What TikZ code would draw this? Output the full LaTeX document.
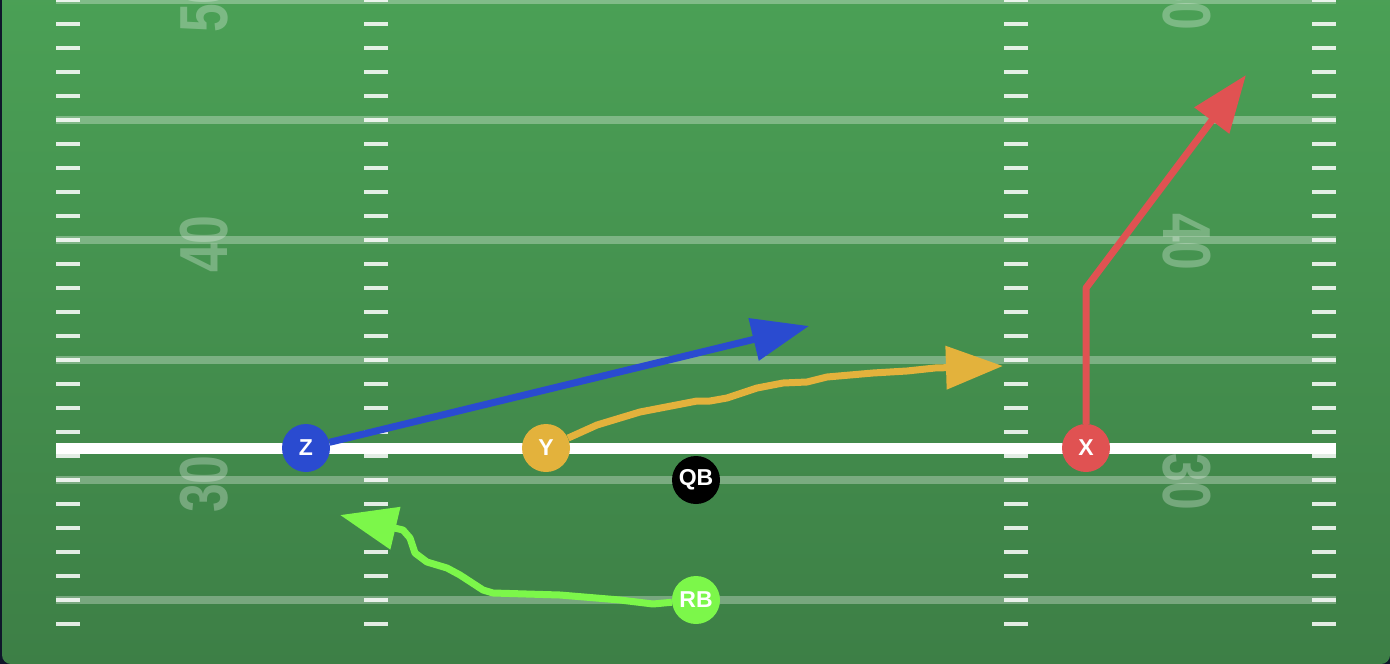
\documentclass[tikz,border=0pt]{standalone}
\usepackage{fontspec}
\usepackage{graphicx}
\setmainfont{Liberation Sans}
\usetikzlibrary{arrows.meta}
\definecolor{bgdark}{HTML}{0F172A}
\definecolor{fieldtop}{RGB}{75,161,86}
\definecolor{fieldbot}{RGB}{61,127,70}
\definecolor{zblue}{HTML}{2A4BD0}
\definecolor{ygold}{HTML}{E3B23C}
\definecolor{xred}{HTML}{E05252}
\definecolor{rbgreen}{HTML}{7CF74A}
\begin{document}
\begin{tikzpicture}[x=1pt,y=-1pt,
 player/.style={circle, minimum size=48pt, inner sep=0pt, text=white, font=\bfseries\fontsize{23}{23}\selectfont},
 route/.style={line width=7pt, line join=round, -{Triangle[length=57pt,width=42pt]}},
 yardline/.style={white, opacity=0.3, line width=8pt},
 hashmark/.style={white, opacity=0.85, line width=4pt},
 yardnum/.style={white, text opacity=0.28, font=\bfseries\fontsize{68}{68}\selectfont, inner sep=0pt}
]
\useasboundingbox (0,0) rectangle (1390,664);
\fill[bgdark] (0,0) rectangle (1390,664);
\shade[top color=fieldtop, bottom color=fieldbot, rounded corners=9pt] (2,-20) rectangle (1390,664);

% yard lines
\foreach \yy in {0,120,...,600} \draw[yardline] (56,\yy) -- (1336,\yy);
% hash marks
\foreach \yy in {0,24,...,624} {
  \foreach \xx in {56,364,1004,1312} \draw[hashmark] (\xx,\yy) -- ++(24,0);
}
% yard numbers
\node[yardnum, rotate=90] (n50l) at (204,4) {\scalebox{0.76}[1]{50}};
\node[yardnum, rotate=90] (n40l) at (204,244) {\scalebox{0.76}[1]{40}};
\node[yardnum, rotate=90] (n30l) at (204,484) {\scalebox{0.76}[1]{30}};
\node[yardnum, rotate=-90] (n50r) at (1187,2) {\scalebox{0.76}[1]{50}};
\node[yardnum, rotate=-90] (n40r) at (1187,242) {\scalebox{0.76}[1]{40}};
\node[yardnum, rotate=-90] (n30r) at (1187,482) {\scalebox{0.76}[1]{30}};

% line of scrimmage
\draw[white, line width=11pt] (56,448) -- (1336,448);

% players
\node[player, fill=zblue] (Z) at (306,448) {Z};
\node[player, fill=ygold] (Y) at (546,448) {Y};
\node[player, fill=black] (QB) at (696,480) {QB};
\node[player, fill=xred] (X) at (1086,448) {X};
\node[player, fill=rbgreen] (RB) at (696,600) {RB};

% route ends
\coordinate (zt) at (809,326);
\coordinate (yt) at (1003,366);
\coordinate (xb) at (1086,288);
\coordinate (xt) at (1246,75);
\coordinate (rt) at (340,515);

% routes
\draw[route, zblue] (Z) -- (zt);
\draw[route, ygold] (Y) -- (597,425) -- (640,412) -- (697,401) -- (710,401) -- (727,398)
  -- (757,388) -- (783,383) -- (807,382) -- (827,377) -- (873,373) -- (907,371) -- (935,368) -- (yt);
\draw[route, xred] (X) -- (xb) -- (xt);
\draw[route, rbgreen] (RB) -- (653,604) -- (620,600) -- (560,595) -- (493,593) -- (483,590)
  -- (460,575) -- (447,568) -- (427,562) -- (415,553) -- (410,538) -- (403,530) -- (rt);
\end{tikzpicture}
\end{document}
